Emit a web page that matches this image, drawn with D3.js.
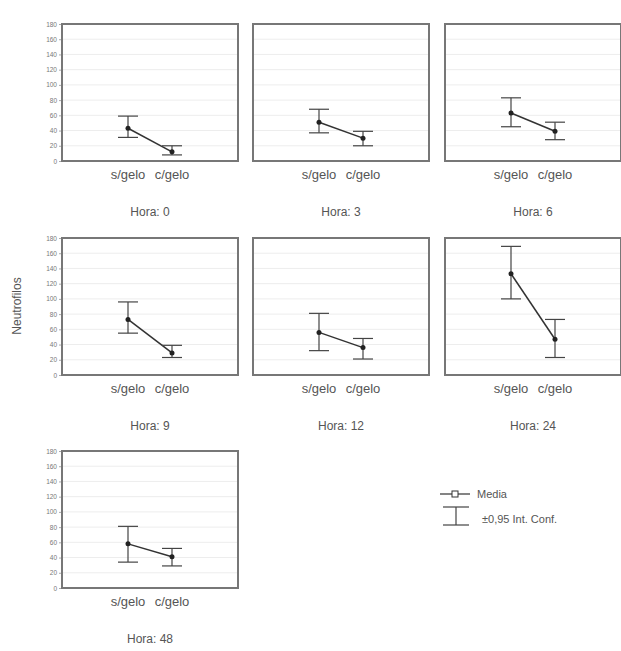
<!DOCTYPE html>
<html>
<head>
<meta charset="utf-8">
<script src="https://cdn.jsdelivr.net/npm/d3@7"></script>
<style>
  body { margin: 0; background: #fff; }
  text { font-family: "Liberation Sans", Arial, sans-serif; fill: #555; }
</style>
</head>
<body>
<div id="chart"></div>
<script>
// valores
var horas = [0, 3, 6, 9, 12, 24, 48];
var categorias = ["s/gelo", "c/gelo"];
var mediaSG = [43, 51, 63, 73, 56, 133, 58];
var mediaCG = [12, 30, 39, 29, 36, 47, 41];
var infSG = [31, 37, 45, 55, 32, 100, 34];
var supSG = [59, 68, 83, 96, 81, 169, 81];
var infCG = [8, 20, 28, 23, 21, 23, 29];
var supCG = [20, 39, 51, 39, 48, 73, 52];
var yTicks = [0, 20, 40, 60, 80, 100, 120, 140, 160, 180];

var width = 621, height = 651,
  colX = [62, 253, 445],
  rowY = [24, 238, 451],
  pw = 176,
  ph = 137,
  boxColor = "#777",
  lineColor = "#333",
  capColor = "#444";

var svg = d3.select("#chart").append("svg")
  .attr("width", width).attr("height", height);

var xScale = d3.scalePoint().domain(categorias).range([0, pw]).padding(1.5);
var yScale = d3.scaleLinear().domain([0, 180]).range([ph, 0]);

horas.forEach(function (h, i) {
  var col = i % 3, row = Math.floor(i / 3);
  var g = svg.append("g").attr("transform", "translate(" + colX[col] + "," + rowY[row] + ")");

  // grade
  g.selectAll("line.grid")
    .data(yTicks.slice(1, -1))
    .enter().append("line")
    .attr("class", "grid")
    .attr("x1", 0).attr("x2", pw)
    .attr("y1", function (d) { return yScale(d); })
    .attr("y2", function (d) { return yScale(d); })
    .style("stroke", "#ededed")
    .style("stroke-width", 1);

  // eixo y so na primeira coluna
  if (col == 0) {
    var ax = g.append("g").call(d3.axisLeft(yScale).tickValues(yTicks).tickSize(3).tickPadding(2));
    ax.select(".domain").remove();
    ax.selectAll("line").style("stroke", "#aaa");
    ax.selectAll("text").style("font-size", "6.5px").style("fill", "#777");
  }

  // linha das medias
  var pts = [
    { c: categorias[0], m: mediaSG[i], lo: infSG[i], hi: supSG[i] },
    { c: categorias[1], m: mediaCG[i], lo: infCG[i], hi: supCG[i] }
  ];

  g.append("path")
    .datum(pts)
    .attr("d", d3.line()
      .x(function (d) { return xScale(d.c); })
      .y(function (d) { return yScale(d.m); }))
    .style("fill", "none")
    .style("stroke", lineColor)
    .style("stroke-width", 1.5);

  var eb = g.selectAll("g.eb").data(pts).enter().append("g").attr("class", "eb");
  eb.append("line")
    .attr("x1", function (d) { return xScale(d.c); })
    .attr("x2", function (d) { return xScale(d.c); })
    .attr("y1", function (d) { return yScale(d.lo); })
    .attr("y2", function (d) { return yScale(d.hi); })
    .style("stroke", capColor).style("stroke-width", 1.2);
  eb.selectAll("line.cap")
    .data(function (d) { return [{ c: d.c, v: d.lo }, { c: d.c, v: d.hi }]; })
    .enter().append("line")
    .attr("class", "cap")
    .attr("x1", function (d) { return xScale(d.c) - 10; })
    .attr("x2", function (d) { return xScale(d.c) + 10; })
    .attr("y1", function (d) { return yScale(d.v); })
    .attr("y2", function (d) { return yScale(d.v); })
    .style("stroke", capColor).style("stroke-width", 1.2);
  eb.append("circle")
    .attr("cx", function (d) { return xScale(d.c); })
    .attr("cy", function (d) { return yScale(d.m); })
    .attr("r", 2.5)
    .style("fill", "#222");

  // caixa
  g.append("rect")
    .attr("x", 0).attr("y", 0).attr("width", pw).attr("height", ph)
    .style("fill", "none").style("stroke", boxColor).style("stroke-width", 2);

  // categorias
  g.selectAll("text.cat")
    .data(categorias)
    .enter().append("text")
    .attr("class", "cat")
    .attr("x", function (d) { return xScale(d); })
    .attr("y", ph + 18)
    .attr("text-anchor", "middle")
    .style("font-size", "13px")
    .text(function (d) { return d; });

  g.append("text")
    .attr("x", pw / 2)
    .attr("y", ph + 55)
    .attr("text-anchor", "middle")
    .style("font-size", "12px")
    .text("Hora: " + h);
});

// titulo do eixo
svg.append("text")
  .attr("transform", "translate(21,306) rotate(-90)")
  .attr("text-anchor", "middle")
  .style("font-size", "12px")
  .text("Neutrofilos");

// legenda
var lg = svg.append("g").attr("transform", "translate(440,494)");
lg.append("line").attr("x1", 0).attr("x2", 30).attr("y1", 0).attr("y2", 0)
  .style("stroke", lineColor).style("stroke-width", 1.2);
lg.append("rect").attr("x", 12).attr("y", -3).attr("width", 6).attr("height", 6)
  .style("fill", "#fff").style("stroke", lineColor).style("stroke-width", 1);
lg.append("text").attr("x", 37).attr("y", 4).style("font-size", "11px").text("Media");

lg.append("line").attr("x1", 3).attr("x2", 29).attr("y1", 13).attr("y2", 13)
  .style("stroke", capColor).style("stroke-width", 1.2);
lg.append("line").attr("x1", 16).attr("x2", 16).attr("y1", 13).attr("y2", 31)
  .style("stroke", capColor).style("stroke-width", 1.2);
lg.append("line").attr("x1", 3).attr("x2", 29).attr("y1", 31).attr("y2", 31)
  .style("stroke", capColor).style("stroke-width", 1.2);
lg.append("text").attr("x", 42).attr("y", 29).style("font-size", "11px").text("±0,95 Int. Conf.");
</script>
</body>
</html>
